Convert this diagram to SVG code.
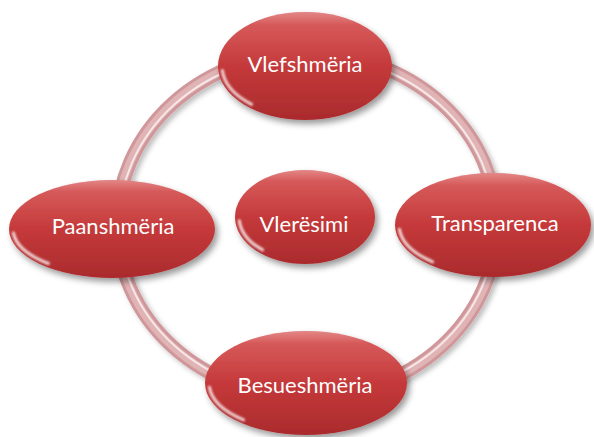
<svg xmlns="http://www.w3.org/2000/svg" width="594" height="437" viewBox="0 0 594 437">
  <defs>
    <linearGradient id="redFill" x1="0" y1="0" x2="0" y2="1">
      <stop offset="0" stop-color="#d44646"/>
      <stop offset="0.5" stop-color="#c5393a"/>
      <stop offset="1" stop-color="#aa2b2d"/>
    </linearGradient>
    <linearGradient id="gloss" x1="0" y1="0" x2="0" y2="1">
      <stop offset="0" stop-color="#ffffff" stop-opacity="0.35"/>
      <stop offset="0.12" stop-color="#ffffff" stop-opacity="0.12"/>
      <stop offset="0.5" stop-color="#ffffff" stop-opacity="0"/>
    </linearGradient>
    <filter id="shadow" x="-20%" y="-20%" width="140%" height="150%">
      <feDropShadow dx="3" dy="4" stdDeviation="3" flood-color="#000" flood-opacity="0.4"/>
    </filter>
    <filter id="ringShadow" x="-10%" y="-10%" width="120%" height="120%">
      <feDropShadow dx="3" dy="3" stdDeviation="2.5" flood-color="#000" flood-opacity="0.25"/>
    </filter>
    <filter id="soft" x="-20%" y="-20%" width="140%" height="140%">
      <feGaussianBlur stdDeviation="0.8"/>
    </filter>
  </defs>
  <style>
    .node { fill: url(#redFill); }
    .gl { fill: url(#gloss); }
    .spec { fill: none; stroke: #ffffff; stroke-width: 3; stroke-linecap: round; opacity: 0.8; filter: url(#soft); }
    .lbl { font-family: Lato, "Open Sans", "Liberation Sans", sans-serif; font-size: 22px; fill: #ffffff; text-anchor: middle; }
    .ring1 { fill: none; stroke: #d0979a; stroke-width: 14; }
    .ring2 { fill: none; stroke: #e0b3b5; stroke-width: 8; }
    .ring3 { fill: none; stroke: #f7e7e7; stroke-width: 2; }
  </style>

  <g id="connectors">
    <g filter="url(#ringShadow)">
      <ellipse class="ring1" cx="307" cy="225" rx="190" ry="172"/>
    </g>
    <ellipse class="ring2" cx="307" cy="225" rx="190" ry="172"/>
    <ellipse class="ring3" cx="307" cy="225" rx="188" ry="170"/>
  </g>

  <g id="node-vlefshmeria">
    <ellipse class="node" cx="305" cy="66" rx="87" ry="54" filter="url(#shadow)"/>
    <ellipse class="gl" cx="305" cy="66" rx="87" ry="54"/>
    <path class="spec" d="M 222.3 70.4 A 83 50 0 0 0 251.6 104.3"/>
    <text class="lbl" x="305" y="72">Vlefshmëria</text>
  </g>

  <g id="node-paanshmeria">
    <ellipse class="node" cx="112" cy="229" rx="103" ry="49" filter="url(#shadow)"/>
    <ellipse class="gl" cx="112" cy="229" rx="103" ry="49"/>
    <path class="spec" d="M 13.4 232.9 A 99 45 0 0 0 48.4 263.5"/>
    <text class="lbl" x="113" y="234">Paanshmëria</text>
  </g>

  <g id="node-vleresimi">
    <ellipse class="node" cx="305" cy="217" rx="70" ry="47" filter="url(#shadow)"/>
    <ellipse class="gl" cx="305" cy="217" rx="70" ry="47"/>
    <path class="spec" d="M 239.3 220.7 A 66 43 0 0 0 262.6 249.9"/>
    <text class="lbl" x="304" y="232">Vlerësimi</text>
  </g>

  <g id="node-transparenca">
    <ellipse class="node" cx="493" cy="225" rx="98" ry="52" filter="url(#shadow)"/>
    <ellipse class="gl" cx="493" cy="225" rx="98" ry="52"/>
    <path class="spec" d="M 399.4 229.2 A 94 48 0 0 0 432.6 261.8"/>
    <text class="lbl" x="495" y="231">Transparenca</text>
  </g>

  <g id="node-besueshmeria">
    <ellipse class="node" cx="306" cy="383" rx="101" ry="52" filter="url(#shadow)"/>
    <ellipse class="gl" cx="306" cy="383" rx="101" ry="52"/>
    <path class="spec" d="M 209.4 387.2 A 97 48 0 0 0 243.6 419.8"/>
    <text class="lbl" x="305" y="393">Besueshmëria</text>
  </g>
</svg>
